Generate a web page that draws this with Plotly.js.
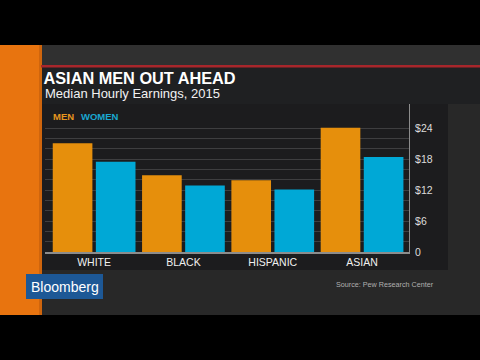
<!DOCTYPE html>
<html>
<head>
<meta charset="utf-8">
<script src="https://cdn.plot.ly/plotly-3.0.1.min.js"></script>
<style>
html,body{margin:0;padding:0;background:#000;}
#chart{width:480px;height:360px;}
</style>
</head>
<body>
<div id="chart"></div>
<script>
// ---- data ----
const categories = ['WHITE', 'BLACK', 'HISPANIC', 'ASIAN'];
const menValues = [21.1, 14.9, 13.9, 24.1];
const womenValues = [17.5, 12.9, 12.1, 18.4];
const seriesNames = ['MEN', 'WOMEN'];
const yTickValues = [0, 2, 4, 6, 8, 10, 12, 14, 16, 18, 20, 22, 24];
const yTickLabels = ['0', '', '', '$6', '', '', '$12', '', '', '$18', '', '', '$24'];
const chartTitle = 'ASIAN MEN OUT AHEAD';
const chartSubtitle = 'Median Hourly Earnings, 2015';
const sourceText = 'Source: Pew Research Center';
const brandText = 'Bloomberg';

// ---- layout helpers (pixel -> paper fractions, margins are zero) ----
const W = 480, H = 360;
const px = x => x / W;
const py = y => 1 - y / H;

const FONT = '"Liberation Sans", Arial, sans-serif';
const ORANGE = '#e68f0c';
const CYAN = '#00a8d6';

const traces = [
  {type: 'bar', name: seriesNames[0], x: categories, y: menValues,
   marker: {color: ORANGE}, hoverinfo: 'skip'},
  {type: 'bar', name: seriesNames[1], x: categories, y: womenValues,
   marker: {color: CYAN}, hoverinfo: 'skip'}
];

function rect(x0, y0, x1, y1, color) {
  return {type: 'rect', xref: 'paper', yref: 'paper', layer: 'below',
          x0: px(x0), x1: px(x1), y0: py(y1), y1: py(y0),
          fillcolor: color, line: {width: 0}};
}

const shapes = [
  rect(42, 45, 480, 315, '#282828'),      // frame background
  rect(42, 45, 480, 66, '#303030'),       // top strip
  rect(42, 67, 480, 104, '#1f2022'),      // header box
  rect(41, 104, 448, 270, '#1c1c1e'),     // chart panel
  rect(0, 45, 42, 315, '#e8740f'),        // orange stripe
  rect(39, 45, 42, 315, '#cf650d'),       // stripe edge
  rect(41, 65, 480, 67.5, '#a8262b'),     // red rule
  rect(26, 274, 103, 299, '#1d5896')      // logo box
];

const annotations = [
  {text: chartSubtitle, xref: 'paper', yref: 'paper', x: px(42.5), y: py(94),
   xanchor: 'left', yanchor: 'middle', showarrow: false,
   font: {family: FONT, size: 13, color: '#f2f2f2'}},
  {text: '<b>' + seriesNames[0] + '</b>', xref: 'paper', yref: 'paper', x: px(51), y: py(116.5),
   xanchor: 'left', yanchor: 'middle', showarrow: false,
   font: {family: FONT, size: 9.5, color: '#e8961e'}},
  {text: '<b>' + seriesNames[1] + '</b>', xref: 'paper', yref: 'paper', x: px(78.5), y: py(116.5),
   xanchor: 'left', yanchor: 'middle', showarrow: false,
   font: {family: FONT, size: 9.5, color: '#1aa7d0'}},
  {text: brandText, xref: 'paper', yref: 'paper', x: px(64.5), y: py(287),
   xanchor: 'center', yanchor: 'middle', showarrow: false,
   font: {family: FONT, size: 14, color: '#ffffff'}},
  {text: sourceText, xref: 'paper', yref: 'paper', x: px(334), y: py(284.5),
   xanchor: 'left', yanchor: 'middle', showarrow: false,
   font: {family: FONT, size: 7.2, color: '#b0b0b0'}}
];

const layout = {
  width: W, height: H,
  margin: {l: 0, r: 0, t: 0, b: 0, pad: 0},
  paper_bgcolor: '#000000',
  plot_bgcolor: 'rgba(0,0,0,0)',
  showlegend: false,
  barmode: 'group',
  bargap: 0.035,
  bargroupgap: 0.08,
  title: {text: '<b>' + chartTitle + '</b>', xref: 'paper', yref: 'paper',
          x: px(43.5), xanchor: 'left', y: py(78.5), yanchor: 'middle',
          font: {family: FONT, size: 16.3, color: '#ffffff'}},
  xaxis: {
    domain: [px(45), px(408.5)],
    type: 'category',
    range: [-0.55, 3.52],
    showgrid: false, zeroline: false,
    showline: true, linecolor: '#8c8c8c', linewidth: 1.5,
    ticks: '', tickfont: {family: FONT, size: 10.5, color: '#f0f0f0'},
    fixedrange: true
  },
  yaxis: {
    domain: [py(252), py(104)],
    side: 'right',
    range: [0, 28.7],
    tickmode: 'array', tickvals: yTickValues, ticktext: yTickLabels,
    showgrid: true, gridcolor: '#3e3e40', gridwidth: 1,
    zeroline: false,
    showline: true, linecolor: '#8c8c8c', linewidth: 1.5,
    ticks: '', ticklabelstandoff: 3,
    tickfont: {family: FONT, size: 10.5, color: '#dcdcdc'},
    fixedrange: true
  },
  shapes: shapes,
  annotations: annotations
};

Plotly.newPlot('chart', traces, layout, {displayModeBar: false, staticPlot: true});
</script>
</body>
</html>
